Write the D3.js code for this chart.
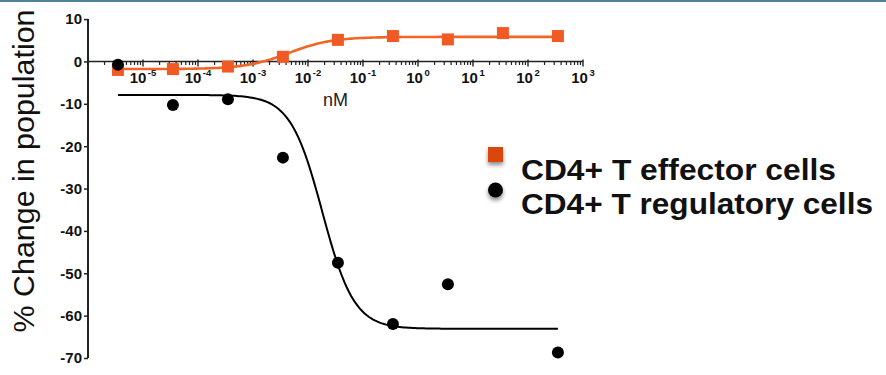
<!DOCTYPE html>
<html>
<head>
<meta charset="utf-8">
<script src="https://cdn.jsdelivr.net/npm/d3@7"></script>
<style>
  html, body { margin: 0; padding: 0; background: #fff; }
  svg { display: block; }
  text { font-family: "Liberation Sans", Arial, Helvetica, sans-serif; }
</style>
</head>
<body>
<svg id="chart" width="886" height="375"></svg>
<script>
// Concentrations (nM), ten-fold dilution series
const concentrations = [3.5e-6, 3.5e-5, 3.5e-4, 3.5e-3, 3.5e-2, 0.35, 3.5, 35, 350];
// % change in population for each cell type (null = no point shown)
const effectorValues   = [-2.0, -1.8, -1.2, 1.1, 5.1, 6.0, 5.2, 6.7, 6.0];
const regulatoryValues = [-0.8, -10.3, -8.9, -22.7, -47.5, -62.0, -52.6, null, -68.7];
// Four-parameter logistic fits: plateau at low dose, plateau at high dose, logEC50, hill slope
const effectorFit   = { low: -1.8, high: 5.8, logEC50: -2.35, hill: 1.1 };
const regulatoryFit = { low: -7.9, high: -63.1, logEC50: -1.74, hill: 1.5 };
const yTicks = [10, 0, -10, -20, -30, -40, -50, -60, -70];
const xDecades = [-5, -4, -3, -2, -1, 0, 1, 2, 3];
const seriesNames = ["CD4+ T effector cells", "CD4+ T regulatory cells"];
const colors = { effector: "#f15a24", effectorLine: "#f26525", legendSquare: "#d9470e", regulatory: "#000" };

const svg = d3.select("#chart");

// thin rule along the top edge
svg.append("rect").attr("x", 0).attr("y", 0).attr("width", 886).attr("height", 2).attr("fill", "#4f8199");

const x = d3.scaleLog().domain([1e-6, 1e3]).range([88, 583]);
const y = d3.scaleLinear().domain([-70, 10]).range([358, 19.1]);

const defs = svg.append("defs");
const shadow = defs.append("filter").attr("id", "shadow").attr("x", "-50%").attr("y", "-50%").attr("width", "200%").attr("height", "220%");
shadow.append("feDropShadow").attr("dx", 0).attr("dy", 3).attr("stdDeviation", 2).attr("flood-color", "#000").attr("flood-opacity", 0.45);

// Y axis
const yAxis = svg.append("g").attr("transform", `translate(${x.range()[0]},0)`)
  .call(d3.axisLeft(y).tickValues(yTicks).tickSize(4).tickPadding(2).tickFormat(d => d));
yAxis.select(".domain").attr("stroke", "#222").attr("stroke-width", 2).attr("d", `M0,${y(10)}V${y(-70)}`);
yAxis.selectAll(".tick line").attr("stroke", "#222").attr("stroke-width", 1.5);
yAxis.selectAll(".tick text").attr("font-size", 15).attr("font-weight", "bold").attr("fill", "#111")
  .style("font-family", "'Liberation Sans', Arial, sans-serif");

// X axis at y = 0, log ticks
const minorTicks = [];
for (let e = -6; e < 3; e++) for (let m = 2; m <= 9; m++) minorTicks.push(m * Math.pow(10, e));
const xAxisG = svg.append("g").attr("transform", `translate(0,${y(0)})`);
xAxisG.append("line").attr("x1", x.range()[0]).attr("x2", x.range()[1]).attr("stroke", "#222").attr("stroke-width", 1.6);
xAxisG.selectAll("line.minor").data(minorTicks).join("line").attr("class", "minor")
  .attr("x1", d => x(d)).attr("x2", d => x(d)).attr("y1", 0).attr("y2", 3.5)
  .attr("stroke", "#222").attr("stroke-width", 1.2);
xAxisG.selectAll("line.major").data(xDecades).join("line").attr("class", "major")
  .attr("x1", d => x(Math.pow(10, d))).attr("x2", d => x(Math.pow(10, d))).attr("y1", -2).attr("y2", 5)
  .attr("stroke", "#222").attr("stroke-width", 1.4);
const xl = xAxisG.selectAll("text.lab").data(xDecades).join("text").attr("class", "lab")
  .attr("x", d => x(Math.pow(10, d))).attr("y", 21.5).attr("text-anchor", "middle")
  .attr("font-weight", "bold").attr("fill", "#111");
xl.append("tspan").attr("font-size", 15).text("10");
xl.append("tspan").attr("font-size", 9.5).attr("dy", -6.5).attr("dx", 1.5).text(d => String(d));

// X axis title
svg.append("text").attr("x", 335.5).attr("y", 106).attr("text-anchor", "middle")
  .attr("font-size", 18).attr("fill", "#222").text("nM");

// Y axis title
svg.append("text").attr("transform", "translate(34,171) rotate(-90)").attr("text-anchor", "middle")
  .attr("font-size", 30).attr("fill", "#111").attr("textLength", 323).attr("lengthAdjust", "spacingAndGlyphs")
  .text("% Change in population");

// fitted curves
const logistic = f => c => f.low + (f.high - f.low) / (1 + Math.pow(10, (f.logEC50 - Math.log10(c)) * f.hill));
function curvePoints(f) {
  const g = logistic(f);
  const lo = Math.log10(concentrations[0]), hi = Math.log10(concentrations[concentrations.length - 1]);
  return d3.range(0, 201).map(i => { const c = Math.pow(10, lo + (hi - lo) * i / 200); return [c, g(c)]; });
}
const line = d3.line().x(d => x(d[0])).y(d => y(d[1]));

svg.append("path").attr("d", line(curvePoints(effectorFit))).attr("fill", "none")
  .attr("stroke", colors.effectorLine).attr("stroke-width", 2.6);
svg.append("path").attr("d", line(curvePoints(regulatoryFit))).attr("fill", "none")
  .attr("stroke", colors.regulatory).attr("stroke-width", 2);

// effector points (squares)
const sq = 12;
svg.selectAll("rect.eff").data(concentrations.map((c, i) => [c, effectorValues[i]])).join("rect").attr("class", "eff")
  .attr("x", d => x(d[0]) - sq / 2).attr("y", d => y(d[1]) - sq / 2).attr("width", sq).attr("height", sq)
  .attr("fill", colors.effector);

// regulatory points (circles)
svg.selectAll("circle.reg").data(concentrations.map((c, i) => [c, regulatoryValues[i]]).filter(d => d[1] !== null))
  .join("circle").attr("class", "reg")
  .attr("cx", d => x(d[0])).attr("cy", d => y(d[1])).attr("r", 6).attr("fill", colors.regulatory);

// legend
const legend = svg.append("g");
legend.append("rect").attr("x", 488).attr("y", 147).attr("width", 15).attr("height", 15)
  .attr("fill", colors.legendSquare).attr("filter", "url(#shadow)");
legend.append("circle").attr("cx", 495.5).attr("cy", 190).attr("r", 7.5)
  .attr("fill", "#000").attr("filter", "url(#shadow)");
legend.append("text").attr("x", 521).attr("y", 180).attr("font-size", 29).attr("font-weight", "bold")
  .attr("fill", "#111").attr("textLength", 315).attr("lengthAdjust", "spacingAndGlyphs").text(seriesNames[0]);
legend.append("text").attr("x", 521).attr("y", 213.5).attr("font-size", 29).attr("font-weight", "bold")
  .attr("fill", "#111").attr("textLength", 352).attr("lengthAdjust", "spacingAndGlyphs").text(seriesNames[1]);
</script>
</body>
</html>
